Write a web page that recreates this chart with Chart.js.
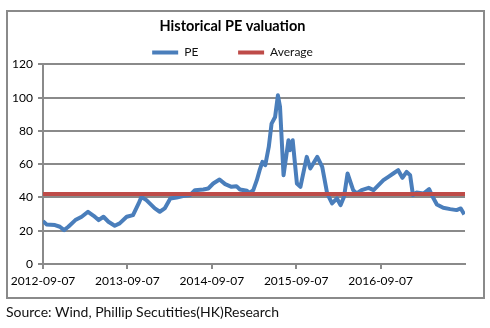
<!DOCTYPE html>
<html>
<head>
<meta charset="utf-8">
<script src="https://cdn.jsdelivr.net/npm/chart.js@4"></script>
<style>
  body { margin: 0; background: #fff; font-family: Lato, sans-serif; }
  #wrap { position: relative; width: 490px; height: 328px; }
  #frame { position: absolute; left: 6px; top: 10px; width: 475px; height: 285px; border: 2px solid #8a8a8a; pointer-events: none; }
  #source { position: absolute; left: 6px; top: 303px; font-size: 14px; color: #111; }
</style>
</head>
<body>
<div id="wrap">
  <canvas id="peChart" width="490" height="328"></canvas>
  <div id="frame"></div>
  <div id="source">Source: Wind, Phillip Secutities(HK)Research</div>
</div>
<script>
// x = months after 2012-09-07
var months = [0, 0.5, 1.7, 2.4, 3.0, 3.6, 4.6, 5.5, 6.4, 7.2, 7.9, 8.6, 9.3, 10.2, 10.9,
  11.9, 12.8, 13.6, 14.0, 14.7, 15.9, 16.6, 17.3, 18.1, 19.0, 19.9, 20.9, 21.6, 22.8, 23.5,
  24.2, 25.1, 25.9, 26.8, 27.5, 28.0, 29.0, 29.4, 29.9, 30.4, 30.8, 31.2, 31.6, 32.1, 32.5,
  33.0, 33.4, 33.7, 34.2, 34.9, 35.1, 35.5, 36.1, 36.6, 37.5, 38.0, 39.0, 39.7, 40.4, 41.1,
  41.8, 42.3, 42.8, 43.3, 44.1, 44.6, 45.3, 46.3, 47.0, 47.7, 48.4, 49.1, 49.8, 50.5, 51.1,
  51.7, 52.2, 52.6, 53.1, 54.1, 54.9, 55.4, 56.0, 56.9, 57.9, 58.8, 59.4, 59.9];
var peValues = [25.8, 23.8, 23.4, 22.4, 20.4, 22.4, 26.4, 28.4, 31.4, 29, 26.4, 28.4, 25.4, 23, 24.4,
  28.4, 29.4, 36.4, 40.4, 38.4, 33.4, 31.4, 33.4, 39.4, 40, 40.8, 41.4, 44.4, 44.8, 45.4,
  48.4, 50.8, 48, 46.4, 46.8, 44.8, 44, 42.8, 44.4, 50.4, 56.4, 61.4, 59.4, 70.4, 84.4,
  88.4, 101.4, 94.4, 53.4, 74.4, 68.4, 74.4, 48.4, 46.4, 64.4, 57.4, 64.4, 58.4, 42.4, 36.4,
  39.4, 35.4, 40.4, 54.4, 44.4, 42.4, 44.4, 45.8, 44.4, 47.4, 50.4, 52.4, 54.4, 56.4, 51.8,
  55.4, 53.4, 41.4, 43, 42.4, 45, 40.4, 35.8, 33.8, 33, 32.4, 33.4, 29.8];
var averagePE = 42.1;
var tickLabels = ['2012-09-07', '2013-09-07', '2014-09-07', '2015-09-07', '2016-09-07'];
var seriesNames = ['PE', 'Average'];

var peData = months.map(function(m, i) { return { x: m, y: peValues[i] }; });
var avgData = [{ x: 0, y: averagePE }, { x: 60, y: averagePE }];

var grey = '#8a8a8a';
var ctx = document.getElementById('peChart');
new Chart(ctx, {
  type: 'line',
  data: {
    datasets: [{
      label: seriesNames[0],
      data: peData,
      borderColor: '#4a7ebb',
      backgroundColor: '#4a7ebb',
      borderWidth: 4,
      pointRadius: 0,
      borderJoinStyle: 'round',
      order: 1
    }, {
      label: seriesNames[1],
      data: avgData,
      borderColor: '#be4b48',
      backgroundColor: '#be4b48',
      borderWidth: 4,
      pointRadius: 0,
      order: 0
    }]
  },
  options: {
    responsive: false,
    animation: false,
    layout: { padding: { left: 0, right: 25, top: 0, bottom: 34 } },
    plugins: {
      tooltip: { enabled: false },
      title: {
        display: true,
        text: 'Historical PE valuation',
        color: '#000',
        font: { family: 'Lato', size: 14.5, weight: 'bold' },
        padding: { top: 18, bottom: 5 }
      },
      legend: {
        display: true,
        maxHeight: 24,
        labels: {
          color: '#111',
          font: { family: 'Lato', size: 12 },
          boxWidth: 26,
          boxHeight: 4,
          padding: 6,
          useBorderRadius: true,
          borderRadius: 2,
          generateLabels: function(chart) {
            return chart.data.datasets.map(function(ds, i) {
              return {
                // trailing spaces only widen the gap between the two items
                text: i === 0 ? ds.label + '           ' : ds.label,
                fillStyle: ds.borderColor,
                strokeStyle: ds.borderColor,
                lineWidth: 0,
                fontColor: '#111',
                datasetIndex: i
              };
            });
          }
        }
      }
    },
    scales: {
      x: {
        type: 'linear',
        min: 0,
        max: 60,
        afterFit: function(scale) { scale.height = 30; },
        afterBuildTicks: function(scale) {
          scale.ticks = tickLabels.map(function(t, i) { return { value: i * 12 }; });
        },
        ticks: {
          color: '#000',
          font: { family: 'Lato', size: 12 },
          padding: 5,
          maxRotation: 0,
          autoSkip: false,
          callback: function(v) { return tickLabels[Math.round(v / 12)]; }
        },
        grid: { drawOnChartArea: false, drawTicks: true, tickLength: 5, color: grey, lineWidth: 2 },
        border: { color: grey, width: 2 }
      },
      y: {
        min: 0,
        max: 120,
        afterFit: function(scale) { scale.width = 43; },
        ticks: {
          stepSize: 20,
          color: '#000',
          font: { family: 'Lato', size: 12 },
          padding: 5
        },
        grid: { color: grey, lineWidth: 2, tickLength: 5 },
        border: { color: grey, width: 2 }
      }
    }
  }
});
</script>
</body>
</html>
